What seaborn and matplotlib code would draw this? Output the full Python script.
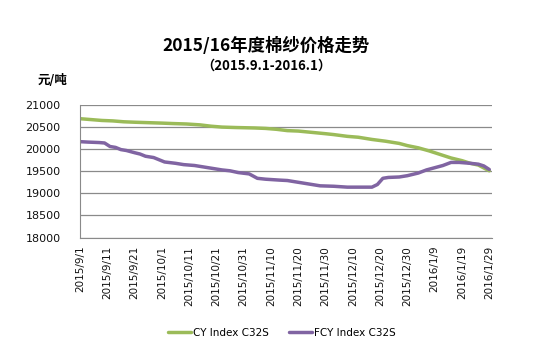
import pandas as pd
import seaborn as sns
import matplotlib.pyplot as plt

cy_dates = ['2015-09-01', '2015-09-05', '2015-09-09', '2015-09-13', '2015-09-17', '2015-09-21',
            '2015-09-26', '2015-10-01', '2015-10-05', '2015-10-10', '2015-10-15', '2015-10-19',
            '2015-10-23', '2015-10-28', '2015-11-04', '2015-11-08', '2015-11-12', '2015-11-16',
            '2015-11-20', '2015-11-25', '2015-11-30', '2015-12-03', '2015-12-08', '2015-12-12',
            '2015-12-17', '2015-12-22', '2015-12-27', '2015-12-30', '2016-01-03', '2016-01-07',
            '2016-01-11', '2016-01-15', '2016-01-19', '2016-01-22', '2016-01-25', '2016-01-29']
cy_values = [20690, 20670, 20650, 20640, 20620, 20610,
             20600, 20590, 20580, 20570, 20550, 20520,
             20500, 20490, 20480, 20470, 20450, 20420,
             20410, 20380, 20350, 20330, 20290, 20270,
             20220, 20180, 20130, 20080, 20030, 19960,
             19880, 19800, 19740, 19680, 19640, 19510]

fcy_dates = ['2015-09-01', '2015-09-04', '2015-09-08', '2015-09-10', '2015-09-12', '2015-09-14',
             '2015-09-16', '2015-09-18', '2015-09-21', '2015-09-23', '2015-09-25', '2015-09-28',
             '2015-09-30', '2015-10-02', '2015-10-06', '2015-10-09', '2015-10-13', '2015-10-17',
             '2015-10-20', '2015-10-23', '2015-10-26', '2015-10-29', '2015-11-02', '2015-11-05',
             '2015-11-08', '2015-11-13', '2015-11-16', '2015-11-19', '2015-11-22', '2015-11-25',
             '2015-11-28', '2015-12-03', '2015-12-08', '2015-12-13', '2015-12-17', '2015-12-19',
             '2015-12-21', '2015-12-23', '2015-12-27', '2015-12-30', '2016-01-03', '2016-01-06',
             '2016-01-09', '2016-01-12', '2016-01-15', '2016-01-18', '2016-01-22', '2016-01-25',
             '2016-01-27', '2016-01-29']
fcy_values = [20170, 20160, 20150, 20140, 20060, 20040,
              19990, 19970, 19920, 19890, 19840, 19810,
              19760, 19710, 19680, 19650, 19630, 19590,
              19560, 19530, 19510, 19470, 19440, 19340,
              19320, 19300, 19290, 19260, 19230, 19200,
              19170, 19160, 19140, 19140, 19140, 19200,
              19340, 19360, 19370, 19400, 19460, 19530,
              19580, 19630, 19700, 19700, 19680, 19660,
              19620, 19540]

series_names = ['CY Index C32S', 'FCY Index C32S']
colors = ['#9BBB59', '#8064A2']

df = pd.concat([
    pd.DataFrame({'date': pd.to_datetime(cy_dates), 'price': cy_values, 'series': series_names[0]}),
    pd.DataFrame({'date': pd.to_datetime(fcy_dates), 'price': fcy_values, 'series': series_names[1]}),
])

sns.set_style('white')
plt.rcParams['font.family'] = ['Noto Sans CJK SC', 'DejaVu Sans']
plt.rcParams['text.color'] = 'black'

fig = plt.figure(figsize=(5.45, 3.58), dpi=100)
ax = fig.add_axes([80 / 545, 1 - 237.5 / 358, 412 / 545, 132.5 / 358])
sns.lineplot(data=df, x='date', y='price', hue='series', palette=colors,
             hue_order=series_names, linewidth=2.5, ax=ax, legend=False)

ax.set_ylim(18000, 21000)
ax.set_yticks(range(18000, 21001, 500))
ax.set_xlim(pd.Timestamp('2015-09-01'), pd.Timestamp('2016-01-30'))
ticks = pd.date_range('2015-09-01', '2016-01-29', freq='10D')
ax.set_xticks(ticks)
ax.set_xticklabels([f'{t.year}/{t.month}/{t.day}' for t in ticks], rotation=90,
                   fontsize=7.5, family='DejaVu Sans', color='#111111')
for lab in ax.get_yticklabels():
    lab.set_family('DejaVu Sans')
    lab.set_fontsize(8)
    lab.set_color('#111111')
ax.yaxis.grid(True, color='#8a8a8a', linewidth=0.9)
ax.set_xlabel('')
ax.set_ylabel('')
sns.despine(ax=ax, top=True, right=True)
ax.spines['left'].set_color('#8a8a8a')
ax.spines['bottom'].set_color('#8a8a8a')
ax.tick_params(axis='x', direction='inout', length=6, color='#8a8a8a', pad=3)
ax.tick_params(axis='y', direction='out', length=4, color='#8a8a8a', pad=10)

fig.text(266 / 545, 1 - 46 / 358, '2015/16年度棉纱价格走势', ha='center', va='center',
         fontsize=12.5, fontweight='bold', color='black')
fig.text(266 / 545, 1 - 66 / 358, '（2015.9.1-2016.1）', ha='center', va='center',
         fontsize=9.5, fontweight='bold', color='black')
fig.text(38 / 545, 1 - 81 / 358, '元/吨', ha='left', va='center', fontsize=9,
         fontweight='bold', color='black')

handles = [plt.Line2D([], [], color=c, linewidth=2.5) for c in colors]
fig.legend(handles, series_names, loc='center', bbox_to_anchor=(282 / 545, 1 - 333 / 358),
           ncol=2, frameon=False, prop={'family': 'DejaVu Sans', 'size': 7.5},
           handlelength=2.2, handletextpad=0.2, columnspacing=2.0)

plt.savefig('out.png', dpi=100)
